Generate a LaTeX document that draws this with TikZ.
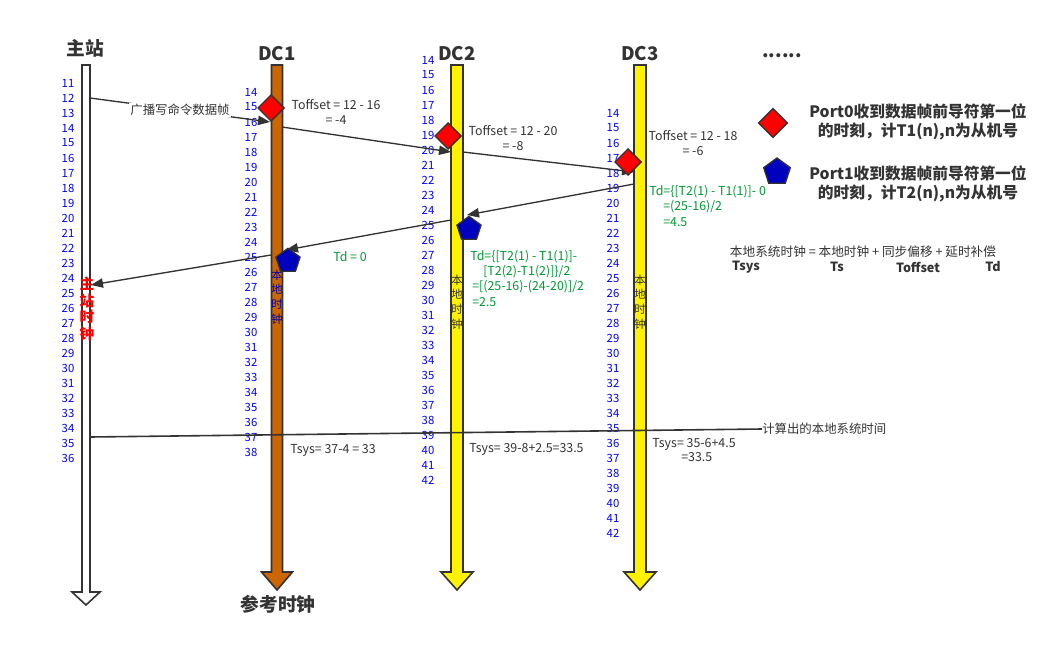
\documentclass[tikz,border=0pt]{standalone}
\usepackage{fontspec}
\setmainfont{Noto Sans CJK SC}
\usetikzlibrary{shapes.geometric,arrows.meta}
\definecolor{dcbrown}{HTML}{CC6600}
\definecolor{tdgreen}{HTML}{009933}
\definecolor{numblue}{HTML}{0000FF}
\definecolor{edge}{HTML}{333333}

% lane arrow: center x, half shaft, head start, tip, fill
\def\lane#1#2#3#4#5{
   \filldraw[draw=edge, line width=1.2pt, fill=#5]
     (#1-#2,65) -- (#1+#2,65) -- (#1+#2,#3) -- (#1+#2+10,#3) -- (#1,#4)
     -- (#1-#2-10,#3) -- (#1-#2,#3) -- cycle;
}
\def\ticks#1#2#3#4{
   \foreach \n [count=\i from 0] in {#2,...,#3}
      \node[num] at (#1,#4+15*\i) {\n};
}

\begin{document}
\begin{tikzpicture}[x=0.75pt,y=-0.75pt,
   num/.style={text=numblue, font=\fontsize{8.5}{8.5}\selectfont, inner sep=0pt},
   title/.style={font=\fontsize{14}{14}\selectfont\bfseries, text=edge},
   note/.style={font=\fontsize{9.3}{11}\selectfont, text=edge, inner sep=0pt},
   td/.style={font=\fontsize{9.3}{11}\selectfont, text=tdgreen, inner sep=0pt, anchor=west},
   port0/.style={diamond, draw=edge, fill=red, line width=1pt, minimum size=20pt, inner sep=0pt},
   port1/.style={regular polygon, regular polygon sides=5, draw=edge, fill=blue!75!black, line width=1pt, minimum size=19pt, inner sep=0pt},
   msg/.style={edge, line width=1pt, -{Triangle[length=9pt,width=7pt]}},
   vlabel/.style={font=\fontsize{8.5}{11}\selectfont, align=center, inner sep=0pt}]
   \useasboundingbox (0,0) rectangle (1060,646);
   %\draw[help lines] (0,0) grid[step=50] (1060,646);
   \lane{86}{4}{592}{605}{white}
   \lane{277}{5.5}{572}{590}{dcbrown}
   \lane{457}{6}{572}{590}{yellow}
   \lane{640}{6}{572}{590}{yellow}
   \node[title] (master) at (85,48) {主站};
   \node[title] (dc1) at (277,54) {DC1};
   \node[title] (dc2) at (457,54) {DC2};
   \node[title] (dc3) at (640,54) {DC3};
   \node[title] (more) at (782,56) {......};
   \node[title] (ref) at (278,604) {参考时钟};
   \ticks{68}{11}{36}{83}
   \ticks{251}{14}{38}{92}
   \ticks{428}{14}{42}{60}
   \ticks{613}{14}{42}{113}
   % vertical lane labels
   \node[vlabel, text=red, font=\fontsize{11}{12.5}\selectfont\bfseries] (mclk) at (87,309) {主\\站\\时\\钟};
   \node[vlabel, text=blue!70!black] (clk1) at (277,297) {本\\地\\时\\钟};
   \node[vlabel, text=edge] (clk2) at (457,302) {本\\地\\时\\钟};
   \node[vlabel, text=edge] (clk3) at (640,302) {本\\地\\时\\钟};
   % frame path
   \coordinate (m12) at (90,98);
   \coordinate (d1in) at (270,122);
   \coordinate (d1out) at (282,127);
   \coordinate (d2in) at (451,152);
   \coordinate (d2out) at (463,152);
   \coordinate (d3in) at (634,172);
   \coordinate (d3back) at (634,184);
   \coordinate (d2back) at (467,215);
   \coordinate (d2ret) at (451,220);
   \coordinate (d1back) at (286,250);
   \coordinate (d1ret) at (271,255);
   \coordinate (m24) at (91,285);
   \draw[msg] (m12) -- (d1in) node[pos=0.5, fill=white, note, inner sep=1pt] (bcast) {广播写命令数据帧};
   \draw[msg] (d1out) -- (d2in);
   \draw[msg] (d2out) -- (d3in);
   \draw[msg] (d3back) -- (d2back);
   \draw[msg] (d2ret) -- (d1back);
   \draw[msg] (d1ret) -- (m24);
   \node[port0] (p01) at (271,108) {};
   \node[port0] (p02) at (448,136) {};
   \node[port0] (p03) at (628,162) {};
   \node[port1] (p11) at (288,261) {};
   \node[port1] (p12) at (469,229) {};
   % offsets
   \node[note, align=center] (off1) at (336,112) {Toffset = 12 - 16\\= -4};
   \node[note, align=center] (off2) at (513,138) {Toffset = 12 - 20\\= -8};
   \node[note, align=center] (off3) at (693,143) {Toffset = 12 - 18\\= -6};
   % delays
   \node[td] (td1) at (333,257) {Td = 0};
   \node[td] (td2a) at (470,257) {Td=\{[T2(1) - T1(1)]-};
   \node[td] (td2b) at (483,272) {[T2(2)-T1(2)]\}/2};
   \node[td] (td2c) at (472,287) {=[(25-16)-(24-20)]/2};
   \node[td] (td2d) at (472,302) {=2.5};
   \node[td] (td3a) at (649,192) {Td=\{[T2(1) - T1(1)]- 0};
   \node[td] (td3b) at (663,207) {=(25-16)/2};
   \node[td] (td3c) at (663,222) {=4.5};
   % system time
   \coordinate (m35) at (90,437);
   \node[note, anchor=west] (calc) at (762,429) {计算出的本地系统时间};
   \draw[edge, line width=1.2pt] (m35) -- (calc.west);
   \node[note, anchor=west] (sys1) at (290,450) {Tsys= 37-4 = 33};
   \node[note, anchor=west] (sys2) at (469,449) {Tsys= 39-8+2.5=33.5};
   \node[note, align=center] (sys3) at (694,450) {Tsys= 35-6+4.5\\\ \ =33.5};
   % legend
   \node[port0, minimum size=22pt] (leg0) at (773,123) {};
   \node[port1, minimum size=21pt] (leg1) at (777,172) {};
   \node[font=\fontsize{11.8}{14}\selectfont\bfseries, text=edge, align=center] (leg0t) at (918,122) {Port0收到数据帧前导符第一位\\的时刻，计T1(n),n为从机号};
   \node[font=\fontsize{11.8}{14}\selectfont\bfseries, text=edge, align=center] (leg1t) at (918,184) {Port1收到数据帧前导符第一位\\的时刻，计T2(n),n为从机号};
   \node[note, font=\fontsize{9.5}{11}\selectfont] (eq) at (863,252) {本地系统时钟 = 本地时钟 + 同步偏移 + 延时补偿};
   \foreach \x/\t in {746/Tsys, 837/Ts, 918/Toffset, 993/Td}
      \node[note, font=\fontsize{9.5}{11}\selectfont\bfseries] at (\x,267) {\t};
\end{tikzpicture}
\end{document}
